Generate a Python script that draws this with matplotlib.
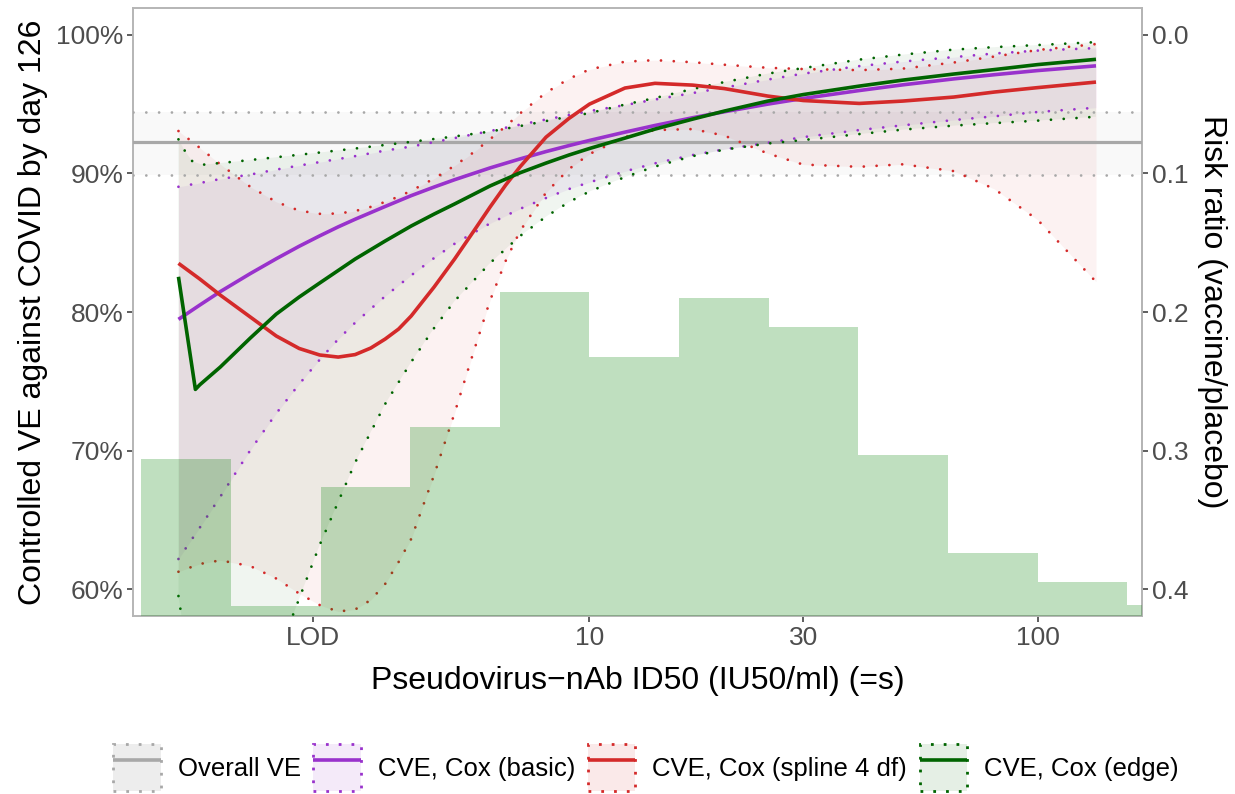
import numpy as np
import matplotlib
matplotlib.use("Agg")
import matplotlib.pyplot as plt
from matplotlib.patches import Patch
from matplotlib.lines import Line2D
from matplotlib.ticker import NullLocator, FixedLocator, FuncFormatter

plt.rcParams['font.family'] = ['Liberation Sans', 'DejaVu Sans']

LOD = 2.42

# titer grid (IU50/ml) for the basic Cox fit
titer = [1.21, 1.35, 1.5, 1.75, 2, 2.25, 2.5, 2.75, 3, 3.5, 4, 4.5, 5, 6, 7, 8, 9, 10,
         12, 14, 17, 20, 25, 30, 40, 50, 65, 80, 100, 135]

# CVE, Cox (basic)  -- VE in %
ve_basic = [79.48, 80.51, 81.48, 82.78, 83.85, 84.75, 85.50, 86.15, 86.70, 87.62, 88.40, 89.02,
            89.55, 90.40, 91.05, 91.58, 92.01, 92.38, 92.98, 93.46, 94.02, 94.45, 95.00, 95.41,
            95.98, 96.39, 96.82, 97.12, 97.42, 97.76]
basic_lo = [62.20, 64.46, 66.69, 70.04, 72.70, 74.81, 76.57, 78.05, 79.24, 81.15, 82.65, 83.90,
            84.93, 86.40, 87.45, 88.23, 88.88, 89.36, 90.15, 90.73, 91.33, 91.74, 92.21, 92.62,
            93.13, 93.47, 93.85, 94.12, 94.43, 94.74]
basic_hi = [89.04, 89.31, 89.60, 89.92, 90.28, 90.57, 90.82, 91.04, 91.25, 91.65, 91.94, 92.26,
            92.55, 93.06, 93.52, 93.89, 94.21, 94.50, 94.93, 95.33, 95.80, 96.19, 96.77, 97.20,
            97.74, 98.07, 98.39, 98.65, 98.86, 99.04]

# CVE, Cox (spline 4 df)
titer_sp = [1.21, 1.35, 1.5, 1.75, 2, 2.25, 2.5, 2.75, 3, 3.25, 3.5, 3.75, 4, 4.5, 5, 5.5, 6,
            6.5, 7, 8, 9, 10, 12, 14, 17, 20, 25, 30, 40, 50, 65, 80, 100, 135]
ve_spline = [83.52, 82.39, 81.23, 79.65, 78.28, 77.38, 76.91, 76.76, 76.94, 77.41, 78.06, 78.78,
             79.72, 81.81, 83.83, 85.78, 87.58, 89.16, 90.48, 92.62, 93.97, 95.00, 96.16, 96.50,
             96.37, 96.12, 95.58, 95.26, 95.05, 95.22, 95.51, 95.87, 96.19, 96.59]
spline_hi = [93.06, 91.85, 90.66, 89.04, 87.95, 87.32, 87.09, 87.11, 87.29, 87.59, 87.95, 88.33,
             88.75, 89.63, 90.56, 91.50, 92.47, 93.40, 94.33, 95.83, 96.83, 97.50, 98.06, 98.17,
             98.02, 97.84, 97.62, 97.53, 97.45, 97.56, 98.00, 98.43, 98.90, 99.33]
spline_lo = [61.28, 61.84, 62.10, 61.69, 60.79, 59.71, 58.88, 58.41, 58.56, 59.24, 60.40, 61.98,
             63.64, 68.25, 72.72, 77.03, 80.84, 83.69, 85.85, 88.62, 90.32, 91.40, 92.63, 93.13,
             93.20, 92.73, 91.44, 90.64, 90.48, 90.66, 90.17, 88.89, 86.66, 82.19]

# CVE, Cox (edge)
titer_edge = [1.21, 1.32, 1.35, 1.5, 1.75, 2, 2.25, 2.5, 3, 3.5, 4, 4.5, 5, 6, 7, 8, 9, 10,
              12, 14, 17, 20, 25, 30, 40, 50, 65, 80, 100, 135]
ve_edge = [82.55, 74.43, 74.76, 76.04, 78.13, 79.86, 81.09, 82.10, 83.83, 85.13, 86.21, 87.07,
           87.80, 89.10, 90.05, 90.75, 91.33, 91.80, 92.55, 93.20, 93.92, 94.50, 95.22, 95.69,
           96.30, 96.73, 97.17, 97.49, 97.85, 98.23]
titer_edge_hi = [1.21, 1.25, 1.3, 1.37, 1.66, 2, 2.5, 3, 4, 5, 6, 7, 8, 9, 10, 12, 14, 17, 20,
                 25, 30, 40, 50, 65, 80, 100, 135]
edge_hi = [92.46, 91.64, 90.87, 90.63, 90.89, 91.17, 91.51, 91.80, 92.28, 92.67, 93.02, 93.42,
           93.78, 94.10, 94.35, 94.97, 95.44, 96.09, 96.59, 97.20, 97.60, 98.21, 98.57, 98.93,
           99.11, 99.26, 99.47]
titer_edge_lo = [1.21, 1.25, 1.4, 1.6, 1.8, 2.0, 2.1, 2.25, 2.5, 3, 3.5, 4, 4.5, 5, 6, 7, 8, 9,
                 10, 12, 14, 17, 20, 25, 30, 40, 50, 65, 80, 100, 135]
edge_lo = [59.53, 56.5, 52.0, 50.5, 51.5, 55.0, 56.8, 59.34, 63.21, 69.16, 73.38, 76.40, 78.85,
           80.80, 83.54, 85.49, 86.89, 87.94, 88.70, 89.74, 90.50, 91.25, 91.72, 92.16, 92.41,
           92.84, 93.16, 93.45, 93.63, 93.81, 94.09]

# overall VE with 95% CI
ve_overall = 92.3
ve_overall_ci = [89.9, 94.4]

# marker histogram (log10 bin edges, bar tops on the VE scale)
hist_log_edges = [0.0, 0.2, 0.4, 0.6, 0.8, 1.0, 1.2, 1.4, 1.6, 1.8, 2.0, 2.2, 2.4]
hist_top = [69.39, 58.83, 67.39, 71.72, 81.45, 76.76, 81.02, 78.93, 69.70, 62.63, 60.54, 58.88]

C_GRAY = '#a8a8a8'
C_PURPLE = '#9932CC'
C_RED = '#D42A2A'
C_GREEN = '#006400'
DOT = (0, (0.01, 4.6))
DOT_LW = 2.0
CURVE_LW = 2.6

YMIN, YMAX = 58.09, 101.93

fig = plt.figure(figsize=(12.35, 7.94), dpi=100)
ax = fig.add_axes([0.1077, 0.2242, 0.8170, 0.7657])
ax.set_xscale('log')

# overall VE band
ax.axhspan(ve_overall_ci[0], ve_overall_ci[1], color='#d0d0d0', alpha=0.12, lw=0, zorder=1)

# ribbons
ax.fill_between(titer, basic_lo, basic_hi, color=C_PURPLE, alpha=0.07, lw=0, zorder=2)
ax.fill_between(titer_sp, spline_lo, spline_hi, color=C_RED, alpha=0.06, lw=0, zorder=2)
ax.fill(list(titer_edge_hi) + list(titer_edge_lo[::-1]), list(edge_hi) + list(edge_lo[::-1]),
        color=C_GREEN, alpha=0.06, lw=0, zorder=2)

# overall VE line and CI
ax.axhline(ve_overall, color=C_GRAY, lw=2.3, zorder=3)
for v in ve_overall_ci:
    ax.axhline(v, color=C_GRAY, lw=DOT_LW, ls=DOT, dash_capstyle='round', zorder=3)

# ribbon borders
for xs, ys, c in [(titer, basic_lo, C_PURPLE), (titer, basic_hi, C_PURPLE),
                  (titer_sp, spline_lo, C_RED), (titer_sp, spline_hi, C_RED),
                  (titer_edge_lo, edge_lo, C_GREEN), (titer_edge_hi, edge_hi, C_GREEN)]:
    ax.plot(xs, ys, color=c, lw=DOT_LW, ls=DOT, dash_capstyle='round', zorder=4)

# curves
ax.plot(titer, ve_basic, color=C_PURPLE, lw=CURVE_LW, zorder=5, solid_capstyle='butt')
ax.plot(titer_sp, ve_spline, color=C_RED, lw=CURVE_LW, zorder=5, solid_capstyle='butt')
ax.plot(titer_edge, ve_edge, color=C_GREEN, lw=CURVE_LW, zorder=5, solid_capstyle='butt')

# histogram drawn on top
left = [10 ** e for e in hist_log_edges[:-1]]
right = [10 ** e for e in hist_log_edges[1:]]
ax.bar(left, [t - YMIN for t in hist_top], width=[r - l for l, r in zip(left, right)],
       bottom=YMIN, align='edge', color='green', alpha=0.25, lw=0, zorder=6)

ax.set_xlim(0.958, 171)
ax.set_ylim(YMIN, YMAX)

ax.xaxis.set_major_locator(FixedLocator([LOD, 10, 30, 100]))
ax.xaxis.set_minor_locator(NullLocator())
ax.set_xticklabels(['LOD', '10', '30', '100'])
ax.set_yticks([60, 70, 80, 90, 100])
ax.set_yticklabels(['60%', '70%', '80%', '90%', '100%'])

for s in ax.spines.values():
    s.set_color('#b5b5b5')
    s.set_linewidth(1.4)
ax.tick_params(axis='both', which='major', length=4, width=1.1, color='#333333',
               labelsize=19, labelcolor='#4d4d4d', pad=3)

ax.set_xlabel('Pseudovirus\u2212nAb ID50 (IU50/ml) (=s)', fontsize=23, labelpad=12)
ax.set_ylabel('Controlled VE against COVID by day 126', fontsize=23, labelpad=6)

sec = ax.secondary_yaxis('right', functions=(lambda v: (100 - v) / 100, lambda r: 100 - 100 * r))
sec.set_yticks([0.0, 0.1, 0.2, 0.3, 0.4])
sec.yaxis.set_major_formatter(FuncFormatter(lambda r, p: '%.1f' % r))
sec.tick_params(length=4, width=1.1, color='#333333', labelsize=19, labelcolor='#4d4d4d', pad=3)
sec.spines['right'].set_color('#b5b5b5')
sec.spines['right'].set_linewidth(1.4)
sec.set_ylabel('Risk ratio (vaccine/placebo)', fontsize=23, rotation=270, labelpad=28)


# legend keys: translucent fill, dotted border, solid line
def key(c, fill_alpha):
    return (Patch(facecolor=c, alpha=fill_alpha, edgecolor='none'),
            Patch(facecolor='none', edgecolor=c, lw=DOT_LW, ls=(0, (1, 3.6))),
            Line2D([], [], color=c, lw=CURVE_LW, solid_capstyle='butt'))


handles = [key(C_GRAY, 0.2), key(C_PURPLE, 0.1), key(C_RED, 0.1), key(C_GREEN, 0.1)]
labels = ['Overall VE', 'CVE, Cox (basic)', 'CVE, Cox (spline 4 df)', 'CVE, Cox (edge)']
fig.legend(handles, labels, loc='center', bbox_to_anchor=(0.523, 0.033), ncol=4,
           frameon=False, fontsize=18.5, handlelength=1.85, handleheight=2.45,
           handletextpad=0.65, columnspacing=0.5)

fig.savefig('out.png', dpi=100)
